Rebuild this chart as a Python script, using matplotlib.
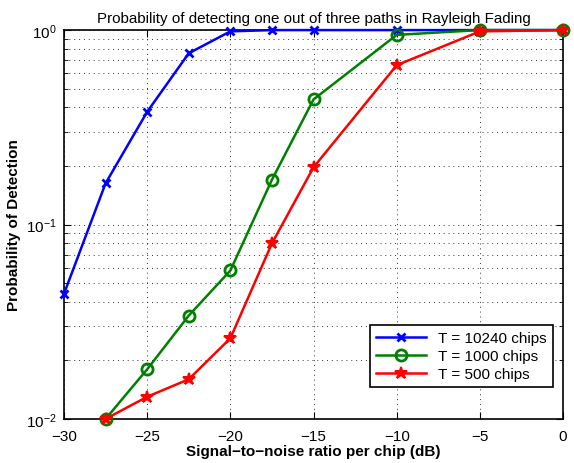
import numpy as np
import matplotlib.pyplot as plt
from matplotlib.ticker import LogLocator, NullFormatter

plt.rcParams['font.family'] = ['Liberation Sans', 'DejaVu Sans']

snr_blue = [-30, -27.5, -25, -22.5, -20, -17.5, -15, -10, -5, 0]
pd_blue = [0.044, 0.163, 0.38, 0.76, 0.985, 1.0, 1.0, 1.0, 1.0, 1.0]

snr_green = [-27.5, -25, -22.5, -20, -17.5, -15, -10, -5, 0]
pd_green = [0.01, 0.018, 0.034, 0.058, 0.17, 0.44, 0.945, 1.0, 1.0]

snr_red = [-27.5, -25, -22.5, -20, -17.5, -15, -10, -5, 0]
pd_red = [0.01, 0.013, 0.016, 0.026, 0.080, 0.197, 0.66, 0.985, 1.0]

labels = ['T = 10240 chips', 'T = 1000 chips', 'T = 500 chips']

fig = plt.figure(figsize=(5.74, 4.64), dpi=100)
ax = fig.add_axes([0.1115, 0.095, 0.8695, 0.838])

ax.semilogy(snr_blue, pd_blue, color='#0000ff', lw=1.8, marker='x', ms=6, mew=2,
            label=labels[0], clip_on=False, zorder=3)
ax.semilogy(snr_green, pd_green, color='#008000', lw=1.8, marker='o', ms=8, mew=2,
            mfc='none', label=labels[1], clip_on=False, zorder=4)
ax.semilogy(snr_red, pd_red, color='#ff0000', lw=1.8, marker='*', ms=9, mew=1.5,
            label=labels[2], clip_on=False, zorder=5)

ax.set_xlim(-30, 0)
ax.set_ylim(0.01, 1)
ax.set_xticks([-30, -25, -20, -15, -10, -5, 0])
ax.set_xticklabels(['\u221230', '\u221225', '\u221220', '\u221215', '\u221210', '\u22125', '0'])
ax.yaxis.set_major_locator(LogLocator(base=10, numticks=5))
ax.yaxis.set_minor_locator(LogLocator(base=10, subs=np.arange(2, 10), numticks=10))
ax.yaxis.set_minor_formatter(NullFormatter())

ax.tick_params(which='both', direction='in', top=True, right=True, labelsize=11)
ax.tick_params(which='major', length=5)
ax.tick_params(which='minor', length=3)
ax.tick_params(axis='x', pad=7)
ax.tick_params(axis='y', pad=5)
ax.grid(True, which='major', ls=(0, (1, 4)), color='k', lw=0.7, alpha=0.8)
ax.grid(True, which='minor', axis='y', ls=(0, (1, 4)), color='k', lw=0.7, alpha=0.8)
for s in ax.spines.values():
    s.set_linewidth(1.2)

ax.set_title('Probability of detecting one out of three paths in Rayleigh Fading', fontsize=10.9)
ax.set_xlabel('Signal\u2212to\u2212noise ratio per chip (dB)', fontsize=11, fontweight='bold', labelpad=1)
ax.set_ylabel('Probability of Detection', fontsize=11, fontweight='bold')

leg = ax.legend(loc='lower right', bbox_to_anchor=(0.98, 0.082), fontsize=11,
                fancybox=False, framealpha=1, edgecolor='k', borderaxespad=0,
                handlelength=3.3, labelspacing=0.25, borderpad=0.4)
leg.get_frame().set_linewidth(1.2)

plt.savefig('out.png', dpi=100)
